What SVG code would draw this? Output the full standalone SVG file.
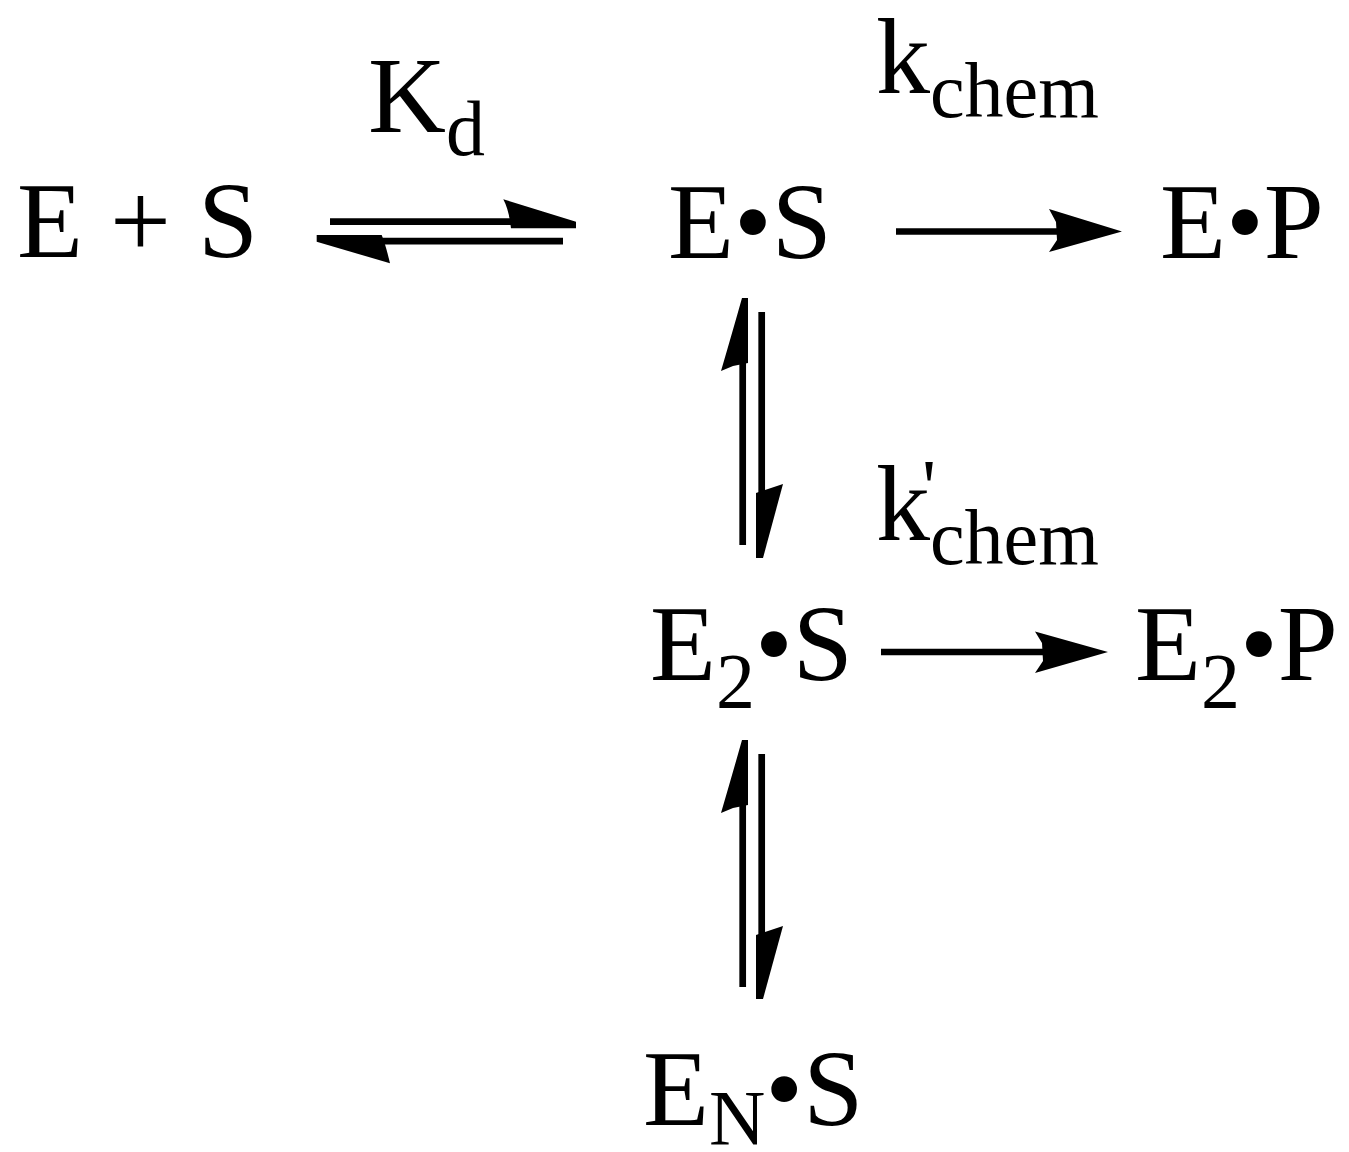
<svg xmlns="http://www.w3.org/2000/svg" width="1349" height="1152" viewBox="0 0 1349 1152">
<style>
text{font-family:"Liberation Serif","Times New Roman",serif;fill:#000}
.m{font-size:108px}
.s{font-size:78px}
.ln{stroke:#000;stroke-width:6.7;fill:none}
.hd{fill:#000;stroke:none}
</style>
<rect width="1349" height="1152" fill="#fff"/>
<g id="n_ES_free"><text class="m" x="17" y="257">E + S</text></g>
<g id="n_ES"><text class="m" x="668" y="258">E•S</text></g>
<g id="n_EP"><text class="m" x="1160" y="258">E•P</text></g>
<g id="n_E2S"><text class="m" x="650" y="680">E<tspan class="s" dy="27">2</tspan><tspan dy="-27">•S</tspan></text></g>
<g id="n_E2P"><text class="m" x="1135" y="680">E<tspan class="s" dy="27">2</tspan><tspan dy="-27">•P</tspan></text></g>
<g id="n_ENS"><text class="m" x="643" y="1125">E<tspan class="s" dy="19">N</tspan><tspan dy="-19">•S</tspan></text></g>
<g id="lbl_Kd"><text class="m" x="368" y="132">K<tspan class="s" dy="23">d</tspan></text></g>
<g id="lbl_kchem"><text class="m" x="876" y="93">k<tspan class="s" dy="24">chem</tspan></text></g>
<g id="lbl_kchem2"><text class="m" x="876" y="540">k<tspan class="s" dy="24">chem</tspan></text><text class="s" x="922" y="513">'</text></g>
<g id="connectors">
<!-- E + S <=> E•S -->
<line class="ln" x1="330" y1="221.7" x2="514" y2="221.7"/>
<path class="hd" d="M503.3,199.3 L576,221.7 L576,228.3 L511,228.3 Q509,210 503.3,199.3 Z"/>
<line class="ln" x1="378" y1="241.2" x2="563" y2="241.2"/>
<path class="hd" d="M316.7,235 L381.7,235 Q386,246 390,263.3 L316.7,241.7 Z"/>
<!-- E•S -> E•P -->
<line class="ln" x1="896" y1="231.5" x2="1058" y2="231.5"/>
<path class="hd" d="M1049,209 L1122,231.5 L1049,252 L1057,240 L1056,222 Z"/>
<!-- E2•S -> E2•P -->
<line class="ln" x1="881" y1="652" x2="1043" y2="652"/>
<path class="hd" d="M1035,631.5 L1108,652 L1035,673 L1043,661 L1042,643 Z"/>
<!-- E•S <=> E2•S -->
<line class="ln" x1="742.7" y1="362" x2="742.7" y2="545"/>
<path class="hd" d="M742,298 L748,298 L748,363 L733,366 L721,371 Q733,330 742,298 Z"/>
<line class="ln" x1="761.7" y1="312" x2="761.7" y2="496"/>
<path class="hd" d="M756,493 L783,484 L763,558 L756,558 Z"/>
<!-- E2•S <=> EN•S -->
<line class="ln" x1="742.7" y1="804" x2="742.7" y2="987"/>
<path class="hd" d="M742,740 L748,740 L748,805 L733,808 L721,813 Q733,772 742,740 Z"/>
<line class="ln" x1="761.7" y1="754" x2="761.7" y2="938"/>
<path class="hd" d="M756,935 L783,926 L763,999 L756,999 Z"/>
</g>
</svg>
